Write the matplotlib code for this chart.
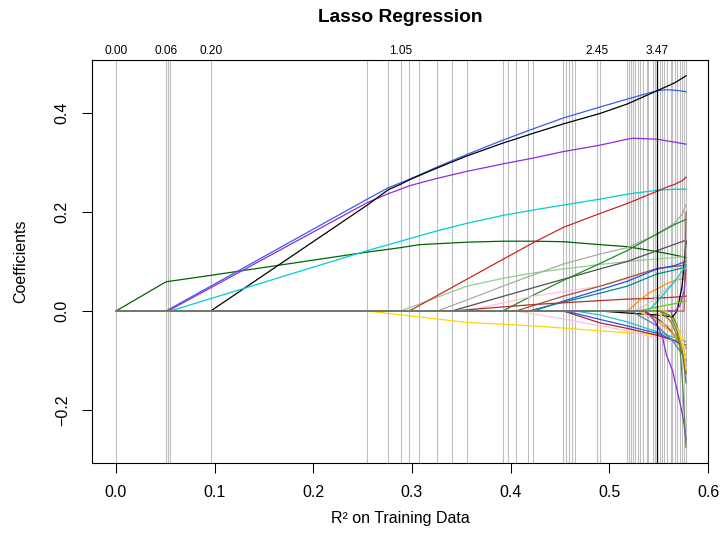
import matplotlib
matplotlib.use("Agg")
import matplotlib.pyplot as plt

plt.rcParams['font.family'] = ['Liberation Sans', 'DejaVu Sans']

# R^2 on the training data at each step of the LARS/lasso path
step_r2 = [0.0, 0.0507, 0.0527, 0.0550, 0.0960, 0.2547, 0.2760, 0.2885, 0.2973,
           0.3074, 0.3256, 0.3402, 0.3554, 0.3919, 0.3976, 0.4054, 0.4179, 0.4229,
           0.4535, 0.4558, 0.4590, 0.4622, 0.4655, 0.4876, 0.4905, 0.5180, 0.5201,
           0.5221, 0.5241, 0.5262, 0.5286, 0.5309, 0.5343, 0.5377, 0.5393, 0.5438,
           0.5461, 0.5485, 0.5512, 0.5535, 0.5555, 0.5580, 0.5620, 0.5640, 0.5664,
           0.5687, 0.5714, 0.5737, 0.5758, 0.5777]
selected_r2 = 0.5485

# L1 norm of the coefficients shown on the top axis
top_label_r2 = [0.0, 0.0507, 0.0960, 0.2885, 0.4876, 0.5485]
top_labels = ["0.00", "0.06", "0.20", "1.05", "2.45", "3.47"]

x_ticks = [0.0, 0.1, 0.2, 0.3, 0.4, 0.5, 0.6]
y_ticks = [-0.2, 0.0, 0.2, 0.4]

# coefficient paths: colour, R^2 at the knots, coefficient at the knots
path_colors = [
    "#006400", "#3A5FE5", "#8E2BE0", "#000000", "#00CED1", "#FFD700",
    "#8FD08F", "#CD2626", "#A9A9A9", "#505050", "#228B22", "#FFC0E0",
    "#FFC0E0", "#A0522D", "#1E50F0", "#008B8B", "#B03030", "#B22222",
    "#3050E0", "#20C5CD", "#FF8C00", "#C8C8C8", "#8B4513", "#EEC900",
    "#6E6E6E", "#000000", "#B85C5C", "#9A32CD", "#EEAD0E", "#4682B4",
    "#FFB6C1", "#66CD00", "#00CED1", "#FFE066", "#8B7355", "#FFD700",
    "#8E2BE0", "#4E8A4E",
]
path_r2 = [
    [0, 0.0507, 0.0960, 0.2547, 0.2885, 0.3074, 0.3554, 0.3919, 0.4229, 0.4535, 0.4905, 0.5180, 0.5485, 0.5664, 0.5777],
    [0, 0.0507, 0.2547, 0.2760, 0.2885, 0.2973, 0.3256, 0.3554, 0.3919, 0.4229, 0.4535, 0.4905, 0.5180, 0.5485, 0.5580, 0.5714, 0.5777],
    [0, 0.0527, 0.2547, 0.2760, 0.2885, 0.2973, 0.3256, 0.3554, 0.3919, 0.4229, 0.4535, 0.4905, 0.5180, 0.5241, 0.5485, 0.5664, 0.5777],
    [0, 0.0960, 0.2547, 0.2760, 0.2885, 0.2973, 0.3256, 0.3554, 0.3919, 0.4229, 0.4535, 0.4905, 0.5180, 0.5485, 0.5664, 0.5777],
    [0, 0.0550, 0.2547, 0.2760, 0.2973, 0.3256, 0.3554, 0.3919, 0.4229, 0.4535, 0.4905, 0.5180, 0.5485, 0.5664, 0.5777],
    [0, 0.2547, 0.3554, 0.4229, 0.4905, 0.5485, 0.5664, 0.5777],
    [0, 0.2885, 0.3554, 0.3919, 0.4229, 0.4535, 0.4905, 0.5180, 0.5485, 0.5664, 0.5777],
    [0, 0.2973, 0.3554, 0.4229, 0.4535, 0.4905, 0.5180, 0.5485, 0.5580, 0.5664, 0.5737, 0.5777],
    [0, 0.3256, 0.3554, 0.3919, 0.4229, 0.4535, 0.4905, 0.5180, 0.5485, 0.5664, 0.5737, 0.5777],
    [0, 0.3402, 0.4229, 0.4905, 0.5180, 0.5485, 0.5664, 0.5777],
    [0, 0.3919, 0.4229, 0.4535, 0.4905, 0.5180, 0.5485, 0.5664, 0.5777],
    [0, 0.3554, 0.4229, 0.4905, 0.5180, 0.5485, 0.5777],
    [0, 0.4054, 0.4535, 0.4905, 0.5180, 0.5485, 0.5664, 0.5777],
    [0, 0.4054, 0.4535, 0.4905, 0.5180, 0.5485, 0.5664, 0.5777],
    [0, 0.4229, 0.4535, 0.4905, 0.5180, 0.5485, 0.5664, 0.5777],
    [0, 0.4179, 0.4535, 0.4905, 0.5180, 0.5485, 0.5664, 0.5777],
    [0, 0.3402, 0.4229, 0.4905, 0.5180, 0.5485, 0.5664, 0.5777],
    [0, 0.4535, 0.4905, 0.5180, 0.5485, 0.5664, 0.5777],
    [0, 0.4558, 0.4905, 0.5180, 0.5485, 0.5664, 0.5777],
    [0, 0.4655, 0.4905, 0.5180, 0.5485, 0.5664, 0.5777],
    [0, 0.5180, 0.5241, 0.5309, 0.5393, 0.5485, 0.5580, 0.5664, 0.5777],
    [0, 0.5262, 0.5393, 0.5485, 0.5580, 0.5664, 0.5777],
    [0, 0.5343, 0.5485, 0.5580, 0.5664, 0.5714, 0.5758, 0.5777],
    [0, 0.5555, 0.5664, 0.5714, 0.5758, 0.5777],
    [0, 0.5620, 0.5687, 0.5737, 0.5777],
    [0, 0.4905, 0.5180, 0.5485, 0.5640, 0.5687, 0.5737, 0.5758, 0.5777],
    [0, 0.5758, 0.5777],
    [0, 0.5664, 0.5714, 0.5758, 0.5777],
    [0, 0.5286, 0.5485, 0.5640, 0.5714, 0.5777],
    [0, 0.5221, 0.5485, 0.5640, 0.5714, 0.5777],
    [0, 0.5309, 0.5485, 0.5664, 0.5777],
    [0, 0.5286, 0.5485, 0.5664, 0.5777],
    [0, 0.5393, 0.5535, 0.5664, 0.5737, 0.5777],
    [0, 0.5438, 0.5580, 0.5687, 0.5737, 0.5777],
    [0, 0.5512, 0.5620, 0.5687, 0.5737, 0.5777],
    [0, 0.5580, 0.5664, 0.5714, 0.5758, 0.5777],
    [0, 0.5377, 0.5461, 0.5535, 0.5580, 0.5640, 0.5687, 0.5737, 0.5758, 0.5777],
    [0, 0.5512, 0.5620, 0.5687, 0.5714, 0.5737, 0.5758, 0.5777],
]
path_coef = [
    [0, 0.059, 0.072, 0.119, 0.128, 0.134, 0.139, 0.141, 0.141, 0.140, 0.134, 0.130, 0.120, 0.113, 0.108],
    [0, 0.000, 0.226, 0.249, 0.259, 0.266, 0.291, 0.316, 0.345, 0.368, 0.390, 0.412, 0.428, 0.445, 0.447, 0.445, 0.443],
    [0, 0.000, 0.219, 0.237, 0.246, 0.253, 0.268, 0.282, 0.297, 0.309, 0.322, 0.335, 0.347, 0.349, 0.347, 0.341, 0.337],
    [0, 0.000, 0.214, 0.245, 0.256, 0.265, 0.289, 0.313, 0.339, 0.359, 0.378, 0.399, 0.418, 0.445, 0.461, 0.475],
    [0, 0.000, 0.122, 0.134, 0.146, 0.162, 0.177, 0.193, 0.204, 0.214, 0.226, 0.236, 0.244, 0.246, 0.246],
    [0, 0.000, -0.023, -0.030, -0.040, -0.048, -0.052, -0.058],
    [0, 0.000, 0.050, 0.066, 0.077, 0.085, 0.094, 0.100, 0.105, 0.108, 0.110],
    [0, 0.000, 0.064, 0.138, 0.169, 0.197, 0.217, 0.242, 0.250, 0.256, 0.263, 0.270],
    [0, 0.000, 0.022, 0.050, 0.073, 0.095, 0.115, 0.128, 0.155, 0.178, 0.195, 0.215],
    [0, 0.000, 0.047, 0.085, 0.100, 0.122, 0.135, 0.143],
    [0, 0.000, 0.032, 0.062, 0.096, 0.122, 0.156, 0.175, 0.185],
    [0, 0.000, 0.030, 0.050, 0.065, 0.085, 0.092],
    [0, 0.000, -0.016, -0.030, -0.040, -0.055, -0.064, -0.070],
    [0, 0.000, 0.030, 0.050, 0.067, 0.086, 0.090, 0.093],
    [0, 0.000, 0.020, 0.043, 0.060, 0.085, 0.092, 0.100],
    [0, 0.000, 0.018, 0.036, 0.050, 0.075, 0.083, 0.089],
    [0, 0.000, 0.013, 0.021, 0.024, 0.026, 0.028, 0.030],
    [0, 0.000, -0.024, -0.035, -0.049, -0.060, -0.069],
    [0, 0.000, -0.017, -0.030, -0.045, -0.060, -0.075],
    [0, 0.000, -0.008, -0.022, -0.042, -0.054, -0.062],
    [0, 0.000, 0.010, 0.022, 0.035, 0.045, 0.055, 0.062, 0.066],
    [0, 0.000, 0.015, 0.028, 0.045, 0.060, 0.076],
    [0, 0.000, -0.015, -0.030, -0.050, -0.070, -0.100, -0.126],
    [0, 0.000, -0.020, -0.045, -0.085, -0.120],
    [0, 0.000, -0.030, -0.075, -0.145],
    [0, 0.000, -0.004, -0.008, -0.012, 0.000, 0.050, 0.095, 0.140],
    [0, 0.000, 0.200],
    [0, 0.000, 0.010, 0.040, 0.083],
    [0, 0.000, -0.020, -0.045, -0.065, -0.090],
    [0, 0.000, -0.030, -0.060, -0.080, -0.100],
    [0, 0.000, -0.020, -0.035, -0.045],
    [0, 0.000, 0.008, 0.015, 0.020],
    [0, 0.000, 0.030, 0.060, 0.080, 0.094],
    [0, 0.000, -0.015, -0.035, -0.060, -0.080],
    [0, 0.000, -0.020, -0.050, -0.080, -0.110],
    [0, 0.000, -0.025, -0.050, -0.085, -0.115],
    [0, 0.000, -0.020, -0.050, -0.090, -0.120, -0.160, -0.205, -0.230, -0.260],
    [0, 0.000, -0.010, -0.040, -0.070, -0.130, -0.200, -0.275],
]

fig = plt.figure(figsize=(7.2, 5.45), dpi=100)
ax = fig.add_axes([92 / 720, 1 - 463 / 545, 616 / 720, 403 / 545])

for r2 in step_r2:
    ax.axvline(r2, color="#BEBEBE", lw=0.8, zorder=1)

for color, xs, ys in zip(path_colors, path_r2, path_coef):
    ax.plot(xs, ys, color=color, lw=0.9, zorder=2)

ax.axvline(selected_r2, color="black", lw=0.9, zorder=3)

ax.set_xlim(-0.0243, 0.6)
ax.set_ylim(-0.307, 0.507)
ax.set_xticks(x_ticks)
ax.set_xticklabels([f"{v:.1f}" for v in x_ticks])
ax.set_yticks(y_ticks)
ax.set_yticklabels([f"{v:.1f}".replace("-", "\u2212") for v in y_ticks])
ax.tick_params(axis="both", direction="out", length=7, width=0.75,
               labelsize=11.5, pad=9)
for lab in ax.get_yticklabels():
    lab.set_rotation(90)
    lab.set_verticalalignment("center")
for sp in ax.spines.values():
    sp.set_linewidth(0.8)

for r2, text in zip(top_label_r2, top_labels):
    ax.annotate(text, xy=(r2, 1.0), xycoords=("data", "axes fraction"),
                xytext=(0, 4.5), textcoords="offset points",
                ha="center", va="baseline", fontsize=8.6)

ax.set_xlabel("R\u00b2 on Training Data", fontsize=11.5)
ax.xaxis.set_label_coords(0.5, -0.137)
ax.xaxis.label.set_verticalalignment("center")
ax.set_ylabel("Coefficients", fontsize=11.5)
ax.yaxis.set_label_coords(-0.115, 0.5)
ax.yaxis.label.set_verticalalignment("center")

fig.text(400 / 720, 1 - 18 / 545, "Lasso Regression", ha="center", va="center",
         fontsize=13.8, fontweight="bold")

fig.savefig("out.png", dpi=100)
